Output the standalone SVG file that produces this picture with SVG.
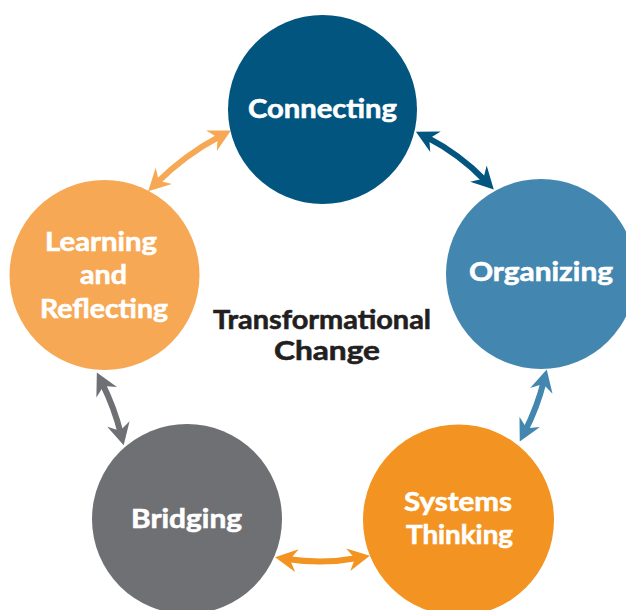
<svg xmlns="http://www.w3.org/2000/svg" width="626" height="610" viewBox="0 0 626 610">
<style>
.lbl{font-family:Lato,"Open Sans","Liberation Sans",sans-serif;font-weight:700;font-size:27px;fill:#ffffff;stroke:#ffffff;stroke-width:0.6;text-anchor:middle}
.ctr{font-family:Lato,"Open Sans","Liberation Sans",sans-serif;font-weight:700;font-size:27px;fill:#231f20;stroke:#231f20;stroke-width:0.6;text-anchor:middle}
.arr{fill:none;stroke-width:6;stroke-linecap:butt}
</style>
<defs>
<marker id="mA" viewBox="-25 -13 27 26" refX="-12" refY="0" markerWidth="27" markerHeight="26" markerUnits="userSpaceOnUse" orient="auto-start-reverse"><path d="M0,0 L-22,-11.5 L-15,0 L-22,11.5 Z" fill="#f6a854"/></marker>
<marker id="mB" viewBox="-25 -13 27 26" refX="-12" refY="0" markerWidth="27" markerHeight="26" markerUnits="userSpaceOnUse" orient="auto-start-reverse"><path d="M0,0 L-22,-11.5 L-15,0 L-22,11.5 Z" fill="#02557f"/></marker>
<marker id="mC" viewBox="-25 -13 27 26" refX="-12" refY="0" markerWidth="27" markerHeight="26" markerUnits="userSpaceOnUse" orient="auto-start-reverse"><path d="M0,0 L-22,-11.5 L-15,0 L-22,11.5 Z" fill="#f39322"/></marker>
<marker id="mD" viewBox="-25 -13 27 26" refX="-12" refY="0" markerWidth="27" markerHeight="26" markerUnits="userSpaceOnUse" orient="auto-start-reverse"><path d="M0,0 L-22,-11.5 L-15,0 L-22,11.5 Z" fill="#6f7073"/></marker>
<marker id="mE" viewBox="-25 -13 27 26" refX="-12" refY="0" markerWidth="27" markerHeight="26" markerUnits="userSpaceOnUse" orient="auto-start-reverse"><path d="M0,0 L-22,-11.5 L-15,0 L-22,11.5 Z" fill="#4386af"/></marker>
</defs>
<rect width="626" height="610" fill="#ffffff"/>
<g id="connectors">
<path class="arr" d="M156.7,182.9 Q185,154.7 220.3,136.1" stroke="#f6a854" marker-start="url(#mA)" marker-end="url(#mA)"/>
<path class="arr" d="M426.6,137.2 Q459.6,154.2 485.4,180.8" stroke="#02557f" marker-start="url(#mB)" marker-end="url(#mB)"/>
<path class="arr" d="M287,559 Q322.5,564.5 358,558" stroke="#f39322" marker-start="url(#mC)" marker-end="url(#mC)"/>
<path class="arr" d="M102.2,383.3 Q114.3,407.5 120.8,433.7" stroke="#6f7073" marker-start="url(#mD)" marker-end="url(#mD)"/>
<path class="arr" d="M543.8,381.2 Q537.3,407 525.2,430.8" stroke="#4386af" marker-start="url(#mE)" marker-end="url(#mE)"/>
</g>
<g id="connecting">
<circle cx="322.5" cy="109.5" r="94.5" fill="#02557f"/>
<text class="lbl" x="322.5" y="118" textLength="149" lengthAdjust="spacingAndGlyphs">Connecting</text>
</g>
<g id="organizing">
<circle cx="541" cy="274" r="95" fill="#4386af"/>
<text class="lbl" x="541" y="281" textLength="144" lengthAdjust="spacingAndGlyphs">Organizing</text>
</g>
<g id="systems-thinking">
<circle cx="458.5" cy="520" r="95.5" fill="#f39322"/>
<text class="lbl" x="458" y="511" textLength="108" lengthAdjust="spacingAndGlyphs">Systems</text>
<text class="lbl" x="459.5" y="544" textLength="107" lengthAdjust="spacingAndGlyphs">Thinking</text>
</g>
<g id="bridging">
<circle cx="187" cy="519" r="95" fill="#6f7073"/>
<text class="lbl" x="186.5" y="528" textLength="111" lengthAdjust="spacingAndGlyphs">Bridging</text>
</g>
<g id="learning-reflecting">
<circle cx="104.5" cy="275" r="95" fill="#f6a854"/>
<text class="lbl" x="101" y="251" textLength="112" lengthAdjust="spacingAndGlyphs">Learning</text>
<text class="lbl" x="103.5" y="284" textLength="47" lengthAdjust="spacingAndGlyphs">and</text>
<text class="lbl" x="104" y="318" textLength="128" lengthAdjust="spacingAndGlyphs">Reflecting</text>
</g>
<g id="transformational-change">
<text class="ctr" x="322" y="329" textLength="218" lengthAdjust="spacingAndGlyphs">Transformational</text>
<text class="ctr" x="327" y="360" textLength="106" lengthAdjust="spacingAndGlyphs">Change</text>
</g>
</svg>
